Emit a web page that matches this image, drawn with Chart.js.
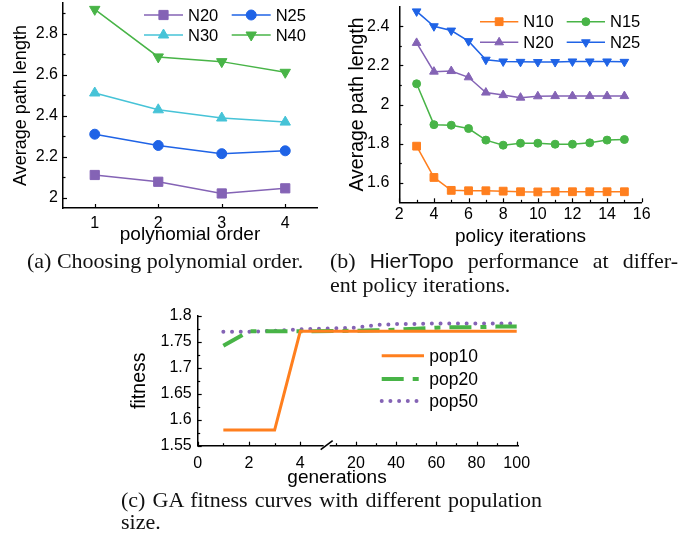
<!DOCTYPE html>
<html>
<head>
<meta charset="utf-8">
<script src="https://cdn.jsdelivr.net/npm/chart.js@4.4.1/dist/chart.umd.min.js"></script>
<style>
  body { margin: 0; background: #fff; width: 681px; height: 533px; position: relative; overflow: hidden; }
  canvas { position: absolute; }
  .cap { position: absolute; font-family: 'Liberation Serif', 'Times New Roman', serif; font-size: 22px; line-height: 23px; color: #111; white-space: nowrap; }
  .just { text-align: justify; text-align-last: justify; white-space: normal; }
  .sans { font-family: 'Liberation Sans', Arial, sans-serif; font-size: 21px; }
  .xt { position: absolute; font-family: 'Liberation Sans', Arial, sans-serif; font-size: 19px; line-height: 22px; transform: translateX(-50%); color: #000; }
</style>
</head>
<body>
<canvas id="chartA" width="335" height="250" style="left:0;top:0"></canvas>
<canvas id="chartB" width="341" height="250" style="left:340px;top:0"></canvas>
<canvas id="chartC" width="420" height="180" style="left:120px;top:305px"></canvas>

<div class="cap" style="left:27px;top:249px">(a) Choosing polynomial order.</div>
<div class="cap just" style="left:330px;top:249px;width:348px">(b) <span class="sans">HierTopo</span> performance at differ-</div>
<div class="cap" style="left:330px;top:273px">ent policy iterations.</div>
<div class="xt" style="left:337px;top:466px">generations</div>
<div class="cap just" style="left:121px;top:488px;width:421px">(c) GA fitness curves with different population</div>
<div class="cap" style="left:121px;top:510px">size.</div>

<script>
// (a) polynomial order
const orders = [1, 2, 3, 4];
const orderN20 = [2.111, 2.078, 2.021, 2.046];
const orderN25 = [2.310, 2.255, 2.215, 2.229];
const orderN30 = [2.511, 2.429, 2.389, 2.369];
const orderN40 = [2.919, 2.687, 2.664, 2.612];
const ticksAx = [1, 2, 3, 4];
const ticksAy = [2, 2.2, 2.4, 2.6, 2.8];
const minorAy = [2.1, 2.3, 2.5, 2.7, 2.9];

// (b) policy iterations
const iterations = [3, 4, 5, 6, 7, 8, 9, 10, 11, 12, 13, 14, 15];
const iterN10 = [1.787, 1.627, 1.561, 1.559, 1.559, 1.557, 1.554, 1.553, 1.554, 1.554, 1.554, 1.554, 1.554];
const iterN15 = [2.106, 1.897, 1.894, 1.877, 1.818, 1.792, 1.802, 1.802, 1.797, 1.797, 1.804, 1.818, 1.821];
const iterN20 = [2.315, 2.168, 2.171, 2.139, 2.061, 2.048, 2.035, 2.042, 2.043, 2.043, 2.043, 2.043, 2.043];
const iterN25 = [2.476, 2.400, 2.378, 2.324, 2.229, 2.220, 2.218, 2.217, 2.217, 2.220, 2.220, 2.220, 2.218];
const ticksBx = [2, 4, 6, 8, 10, 12, 14, 16];
const minorBx = [3, 5, 7, 9, 11, 13, 15];
const ticksBy = [1.6, 1.8, 2, 2.2, 2.4];
const minorBy = [1.7, 1.9, 2.1, 2.3];

// (c) GA fitness, broken x axis (0-4 then 20-100)
const generations = [1, 2, 3, 4, 20, 30, 40, 50, 60, 70, 80, 90, 100];
const pop10 = [1.58, 1.58, 1.58, 1.77, 1.77, 1.77, 1.77, 1.77, 1.77, 1.77, 1.77, 1.77, 1.77];
const pop20 = [1.742, 1.770, 1.770, 1.770, 1.771, 1.772, 1.773, 1.775, 1.777, 1.778, 1.778, 1.779, 1.779];
const pop50 = [1.769, 1.769, 1.771, 1.774, 1.777, 1.782, 1.784, 1.784, 1.785, 1.785, 1.785, 1.785, 1.785];
const ticksCx = [0, 2, 4, 20, 40, 60, 80, 100];
const minorCx = [1, 3, 10, 30, 50, 70, 90];
const ticksCy = [1.55, 1.6, 1.65, 1.7, 1.75, 1.8];
const minorCy = [1.575, 1.625, 1.675, 1.725, 1.775];

// compress the 20..100 part so it sits right after 4
function genPos(g) {
    return g <= 4 ? g : 6.17 + (g - 20) * 0.0784;
}

const PURPLE = '#8463b5', BLUE = '#1f63e6', CYAN = '#46c3d7', GREEN = '#48b447', ORANGE = '#ff7f1e';

Chart.defaults.font.family = "'Liberation Sans', Arial, sans-serif";
Chart.defaults.color = '#000';
Chart.defaults.animation = false;

const fmt = v => String(+(+v).toFixed(3));

// legend laid out in a grid inside the plot
const gridLegend = {
    id: 'gridLegend',
    afterDatasetsDraw(chart, args, opts) {
        const ctx = chart.ctx;
        ctx.save();
        chart.data.datasets.forEach((ds, i) => {
            const [x, y] = opts.spots[i];
            ctx.save();
            ctx.strokeStyle = ds.borderColor;
            ctx.lineWidth = ds.borderWidth;
            ctx.lineCap = ds.borderCapStyle || 'butt';
            ctx.setLineDash(ds.borderDash || []);
            ctx.beginPath();
            ctx.moveTo(x, y);
            ctx.lineTo(x + opts.len, y);
            ctx.stroke();
            ctx.restore();
            if (ds.pointRadius > 0) {
                ctx.fillStyle = ds.pointBackgroundColor;
                ctx.strokeStyle = ds.borderColor;
                ctx.lineWidth = 1;
                Chart.helpers.drawPoint(ctx, {
                    pointStyle: ds.pointStyle, rotation: ds.pointRotation || 0,
                    radius: ds.pointRadius, borderWidth: 1
                }, x + opts.len / 2, y);
            }
            ctx.fillStyle = '#000';
            ctx.font = opts.fontSize + "px 'Liberation Sans', Arial, sans-serif";
            ctx.textBaseline = 'middle';
            ctx.textAlign = 'left';
            ctx.fillText(ds.label, x + opts.len + opts.gap, y + 1);
        });
        ctx.restore();
    }
};

// tick marks pointing into the plot, plus minor ticks and optional axis break
const inTicks = {
    id: 'inTicks',
    afterDraw(chart, args, opts) {
        const ctx = chart.ctx, area = chart.chartArea;
        const sx = chart.scales.x, sy = chart.scales.y;
        ctx.save();
        ctx.strokeStyle = '#000';
        ctx.lineWidth = 1.2;
        const xt = (v, len) => {
            const px = Math.round(sx.getPixelForValue(v)) + 0.5;
            ctx.beginPath(); ctx.moveTo(px, area.bottom); ctx.lineTo(px, area.bottom - len); ctx.stroke();
        };
        const yt = (v, len) => {
            const py = Math.round(sy.getPixelForValue(v)) + 0.5;
            ctx.beginPath(); ctx.moveTo(area.left, py); ctx.lineTo(area.left + len, py); ctx.stroke();
        };
        sx.ticks.forEach(t => xt(t.value, 4));
        sy.ticks.forEach(t => yt(t.value, 4));
        (opts.xMinor || []).forEach(v => xt(v, 2.5));
        (opts.yMinor || []).forEach(v => yt(v, 2.5));
        if (opts.breakAt !== undefined) {
            const bx = sx.getPixelForValue(opts.breakAt);
            ctx.strokeStyle = '#fff';
            ctx.lineWidth = 3;
            ctx.beginPath(); ctx.moveTo(bx - 3, area.bottom); ctx.lineTo(bx + 3, area.bottom); ctx.stroke();
            ctx.strokeStyle = '#000';
            ctx.lineWidth = 1.6;
            ctx.beginPath(); ctx.moveTo(bx - 6, area.bottom + 4); ctx.lineTo(bx + 6, area.bottom - 5); ctx.stroke();
        }
        ctx.restore();
    }
};

function markerSet(label, xs, ys, color, style, radius, rot) {
    return {
        label: label,
        data: xs.map((x, i) => ({ x: x, y: ys[i] })),
        borderColor: color,
        backgroundColor: color,
        pointBackgroundColor: color,
        pointBorderColor: color,
        borderWidth: 1.5,
        pointStyle: style,
        pointRadius: radius,
        pointRotation: rot || 0,
        pointBorderWidth: 1
    };
}

function axes(cfg) {
    return {
        x: {
            type: 'linear', min: cfg.xmin, max: cfg.xmax,
            afterFit(s) { s.height = cfg.xh; s.paddingLeft = 0; s.paddingRight = 0; },
            afterBuildTicks(s) { s.ticks = cfg.xticks.map(v => ({ value: v })); },
            grid: { display: false, drawTicks: false },
            border: { display: true, color: '#000', width: 1.5 },
            ticks: { font: { size: 16 }, padding: cfg.xpad, maxRotation: 0, autoSkip: false,
                     callback: cfg.xlabel || fmt },
            title: cfg.xtitle ? { display: true, text: cfg.xtitle, font: { size: 19 },
                     padding: { top: 0, bottom: cfg.xtpad } } : { display: false }
        },
        y: {
            type: 'linear', min: cfg.ymin, max: cfg.ymax,
            afterFit(s) { s.width = cfg.yw; s.paddingTop = 0; s.paddingBottom = 0; },
            afterBuildTicks(s) { s.ticks = cfg.yticks.map(v => ({ value: v })); },
            grid: { display: false, drawTicks: false },
            border: { display: true, color: '#000', width: 1.5 },
            ticks: { font: { size: 16 }, padding: cfg.ypad, callback: fmt },
            title: { display: true, text: cfg.ytitle, font: { size: cfg.ytsize },
                     padding: { top: cfg.ytpad, bottom: 0 } }
        }
    };
}

// (a)
new Chart(document.getElementById('chartA'), {
    type: 'line',
    data: {
        datasets: [
            markerSet('N20', orders, orderN20, PURPLE, 'rect', 6.5),
            markerSet('N25', orders, orderN25, BLUE, 'circle', 5),
            markerSet('N30', orders, orderN30, CYAN, 'triangle', 6),
            markerSet('N40', orders, orderN40, GREEN, 'triangle', 6, 180)
        ]
    },
    options: {
        responsive: false, devicePixelRatio: 1,
        layout: { autoPadding: false, padding: { left: 0, top: 3, right: 18, bottom: 0 } },
        elements: { line: { tension: 0 } },
        datasets: { line: { clip: false } },
        plugins: {
            legend: { display: false }, tooltip: { enabled: false },
            gridLegend: { spots: [[144, 15], [231.7, 15], [144, 35], [231.7, 35]], len: 39, gap: 5, fontSize: 16.5 },
            inTicks: { yMinor: minorAy }
        },
        scales: axes({ xmin: 0.5, xmax: 4.5, xh: 42, xticks: ticksAx, xpad: 6, xtitle: 'polynomial order', xtpad: 3.6,
                       ymin: 1.95, ymax: 2.95, yw: 63, yticks: ticksAy, ypad: 5,
                       ytitle: 'Average path length', ytsize: 18, ytpad: 10 })
    },
    plugins: [gridLegend, inTicks]
});

// (b)
new Chart(document.getElementById('chartB'), {
    type: 'line',
    data: {
        datasets: [
            markerSet('N10', iterations, iterN10, ORANGE, 'rect', 5.5),
            markerSet('N15', iterations, iterN15, GREEN, 'circle', 4),
            markerSet('N20', iterations, iterN20, PURPLE, 'triangle', 5),
            markerSet('N25', iterations, iterN25, BLUE, 'triangle', 5, 180)
        ]
    },
    options: {
        responsive: false, devicePixelRatio: 1,
        layout: { autoPadding: false, padding: { left: 0, top: 6.7, right: 39.3, bottom: 0 } },
        elements: { line: { tension: 0 } },
        datasets: { line: { clip: false } },
        plugins: {
            legend: { display: false }, tooltip: { enabled: false },
            gridLegend: { spots: [[140, 21.7], [226.7, 21.7], [140, 42.3], [226.7, 42.3]], len: 38.3, gap: 5, fontSize: 16.5 },
            inTicks: { xMinor: minorBx, yMinor: minorBy }
        },
        scales: axes({ xmin: 2, xmax: 16, xh: 47.7, xticks: ticksBx, xpad: 3, xtitle: 'policy iterations', xtpad: 1.6,
                       ymin: 1.5, ymax: 2.5, yw: 59.3, yticks: ticksBy, ypad: 10,
                       ytitle: 'Average path length', ytsize: 19.5, ytpad: 5.8 })
    },
    plugins: [gridLegend, inTicks]
});

// (c)
function curve(label, ys, color, width, dash, cap) {
    return {
        label: label,
        data: generations.map((g, i) => ({ x: genPos(g), y: ys[i] })),
        borderColor: color,
        borderWidth: width,
        borderDash: dash,
        borderCapStyle: cap,
        pointRadius: 0
    };
}

new Chart(document.getElementById('chartC'), {
    type: 'line',
    data: {
        datasets: [
            curve('pop10', pop10, ORANGE, 3, [], 'butt'),
            curve('pop20', pop20, GREEN, 4, [22, 9, 6, 9], 'butt'),
            curve('pop50', pop50, PURPLE, 4, [0, 8.7], 'round')
        ]
    },
    options: {
        responsive: false, devicePixelRatio: 1,
        layout: { autoPadding: false, padding: { left: 0, top: 10.7, right: 22, bottom: 0 } },
        elements: { line: { tension: 0 } },
        datasets: { line: { clip: false } },
        plugins: {
            legend: { display: false }, tooltip: { enabled: false },
            gridLegend: { spots: [[261.7, 50.7], [261.7, 74], [261.7, 96]], len: 42.3, gap: 5.3, fontSize: 17.5 },
            inTicks: { xMinor: minorCx.map(genPos), yMinor: minorCy, breakAt: 5.03 }
        },
        scales: axes({ xmin: 0, xmax: genPos(100) + 0.05, xh: 39.3, xticks: ticksCx.map(genPos), xpad: 8,
                       xlabel: (v, i) => String(ticksCx[i]),
                       ymin: 1.55, ymax: 1.8, yw: 77.7, yticks: ticksCy, ypad: 6,
                       ytitle: 'fitness', ytsize: 19.5, ytpad: 8.3 })
    },
    plugins: [gridLegend, inTicks]
});
</script>
</body>
</html>
